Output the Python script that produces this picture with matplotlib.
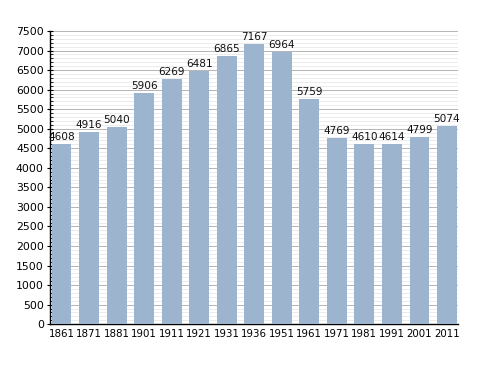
import numpy as np
import matplotlib.pyplot as plt
from matplotlib.ticker import MultipleLocator

# datos
years = ['1861', '1871', '1881', '1901', '1911', '1921', '1931', '1936',
         '1951', '1961', '1971', '1981', '1991', '2001', '2011']
pop = [4608, 4916, 5040, 5906, 6269, 6481, 6865, 7167,
       6964, 5759, 4769, 4610, 4614, 4799, 5074]

plt.rcParams['font.family'] = ['DejaVu Sans']

fig = plt.figure(figsize=(4.88, 3.73), dpi=100)
ax = fig.add_axes([0.1025, 0.131, 0.836, 0.786])

x = np.arange(len(years))
ax.bar(x, pop, width=0.72, color='#9cb4ce', zorder=3)

for xi, v in zip(x, pop):
    ax.text(xi, v + 50, str(v), ha='center', va='bottom', fontsize=7.6, color='#111111', zorder=4)

ax.set_xlim(-0.42, 14.4)
ax.set_ylim(0, 7500)
ax.set_xticks(x)
ax.set_xticklabels(years, fontsize=7.4)
ax.yaxis.set_major_locator(MultipleLocator(500))
ax.yaxis.set_minor_locator(MultipleLocator(100))
ax.tick_params(axis='y', labelsize=7.8, length=5, direction='inout', width=0.8, pad=2)
ax.tick_params(axis='y', which='minor', length=2.5, direction='in', width=0.6)
ax.tick_params(axis='x', length=0, pad=3.5)

ax.grid(axis='y', which='major', color='#b5b5b5', linewidth=0.7, zorder=0)
ax.grid(axis='y', which='minor', color='#e9e9e9', linewidth=0.6, zorder=0)

for s in ['top', 'right']:
    ax.spines[s].set_visible(False)
ax.spines['left'].set_linewidth(1.0)
ax.spines['bottom'].set_linewidth(1.0)

fig.savefig('out.png', dpi=100)
